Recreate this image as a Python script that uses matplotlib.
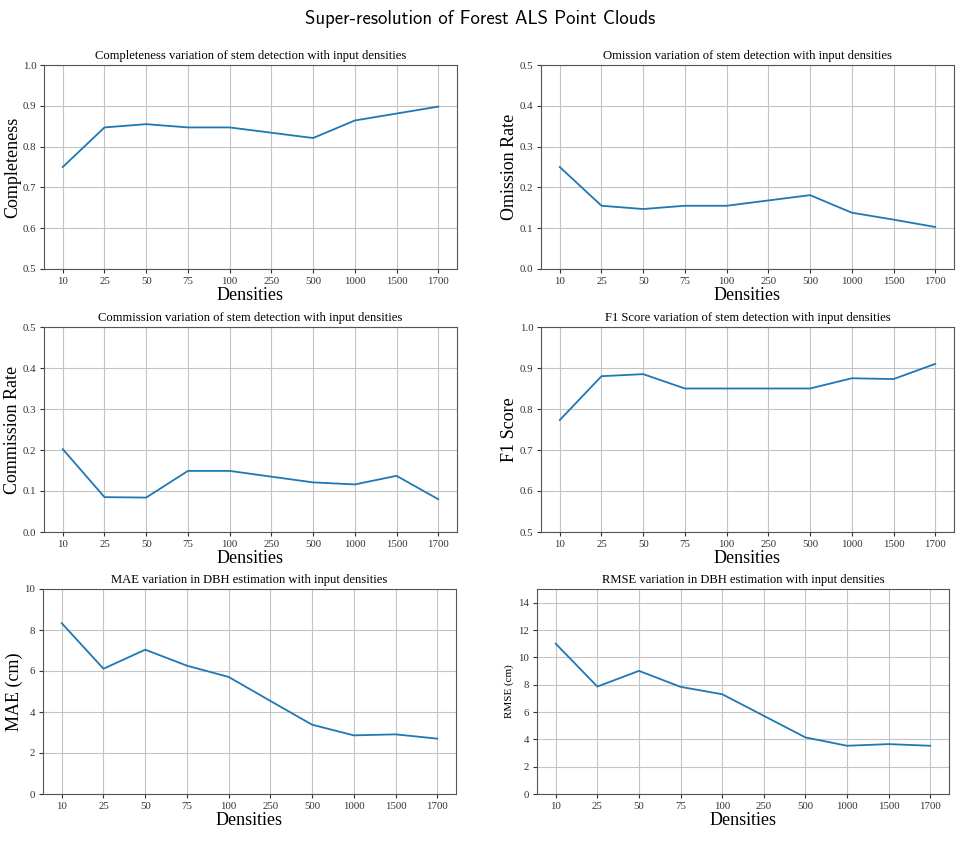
import matplotlib.pyplot as plt

# -----------------------------
# Data
# -----------------------------

densities = ["10", "25", "50", "75", "100", "250", "500", "1000", "1500", "1700"]

completeness = [0.750, 0.847, 0.855, 0.847, 0.847, 0.834, 0.821, 0.864, 0.881, 0.898]
omission = [0.250, 0.155, 0.147, 0.155, 0.155, 0.168, 0.181, 0.138, 0.121, 0.103]
commission = [0.202, 0.085, 0.084, 0.149, 0.149, 0.135, 0.121, 0.116, 0.137, 0.080]
f1_score = [0.773, 0.880, 0.885, 0.850, 0.850, 0.850, 0.850, 0.875, 0.873, 0.910]
mae_cm = [8.33, 6.11, 7.04, 6.26, 5.71, 4.54, 3.38, 2.86, 2.91, 2.70]
rmse_cm = [11.0, 7.86, 9.01, 7.84, 7.30, 5.72, 4.14, 3.53, 3.65, 3.53]

titles = [
    "Completeness variation of stem detection with input densities",
    "Omission variation of stem detection with input densities",
    "Commission variation of stem detection with input densities",
    "F1 Score variation of stem detection with input densities",
    "MAE variation in DBH estimation with input densities",
    "RMSE variation in DBH estimation with input densities",
]
ylabels = ["Completeness", "Omission Rate", "Commission Rate", "F1 Score", "MAE (cm)", "RMSE (cm)"]
series = [completeness, omission, commission, f1_score, mae_cm, rmse_cm]
ylims = [(0.5, 1.0), (0.0, 0.5), (0.0, 0.5), (0.5, 1.0), (0, 10), (0, 15)]


# -----------------------------
# Plot
# -----------------------------

plt.rcParams["font.family"] = ["Liberation Serif", "DejaVu Serif"]

fig = plt.figure(figsize=(9.61, 8.49), dpi=100)

W, H = 961, 849
# pixel boxes: left, top, right, bottom
boxes = [
    (44, 65, 457, 269),
    (541, 65, 954, 269),
    (44, 327, 457, 532),
    (541, 327, 954, 532),
    (43, 589, 456, 794),
    (537, 589, 949, 794),
]

x = list(range(len(densities)))

for i, (l, t, r, b) in enumerate(boxes):
    ax = fig.add_axes([l / W, 1 - b / H, (r - l) / W, (b - t) / H])
    ax.plot(x, series[i], color="#1f77b4", linewidth=1.3)
    ax.set_xticks(x)
    ax.set_xticklabels(densities)
    ax.set_ylim(*ylims[i])
    if i == 5:
        ax.set_yticks([0, 2, 4, 6, 8, 10, 12, 14])
    ax.grid(True, color="#c4c4c4", linewidth=0.8)
    ax.set_axisbelow(True)
    ax.tick_params(labelsize=7.8, colors="#333333", length=3, pad=2.5)
    for sp in ax.spines.values():
        sp.set_color("#555555")
    ax.set_title(titles[i], fontsize=9.1, pad=4)
    ax.set_xlabel("Densities", fontsize=13, labelpad=1)
    if i == 5:
        ax.set_ylabel(ylabels[i], fontsize=8, labelpad=3)
    else:
        ax.set_ylabel(ylabels[i], fontsize=13, labelpad=1)

fig.suptitle("Super-resolution of Forest ALS Point Clouds", fontsize=13.5,
             fontfamily="cmss10", y=0.988)

fig.savefig("out.png", dpi=100)
